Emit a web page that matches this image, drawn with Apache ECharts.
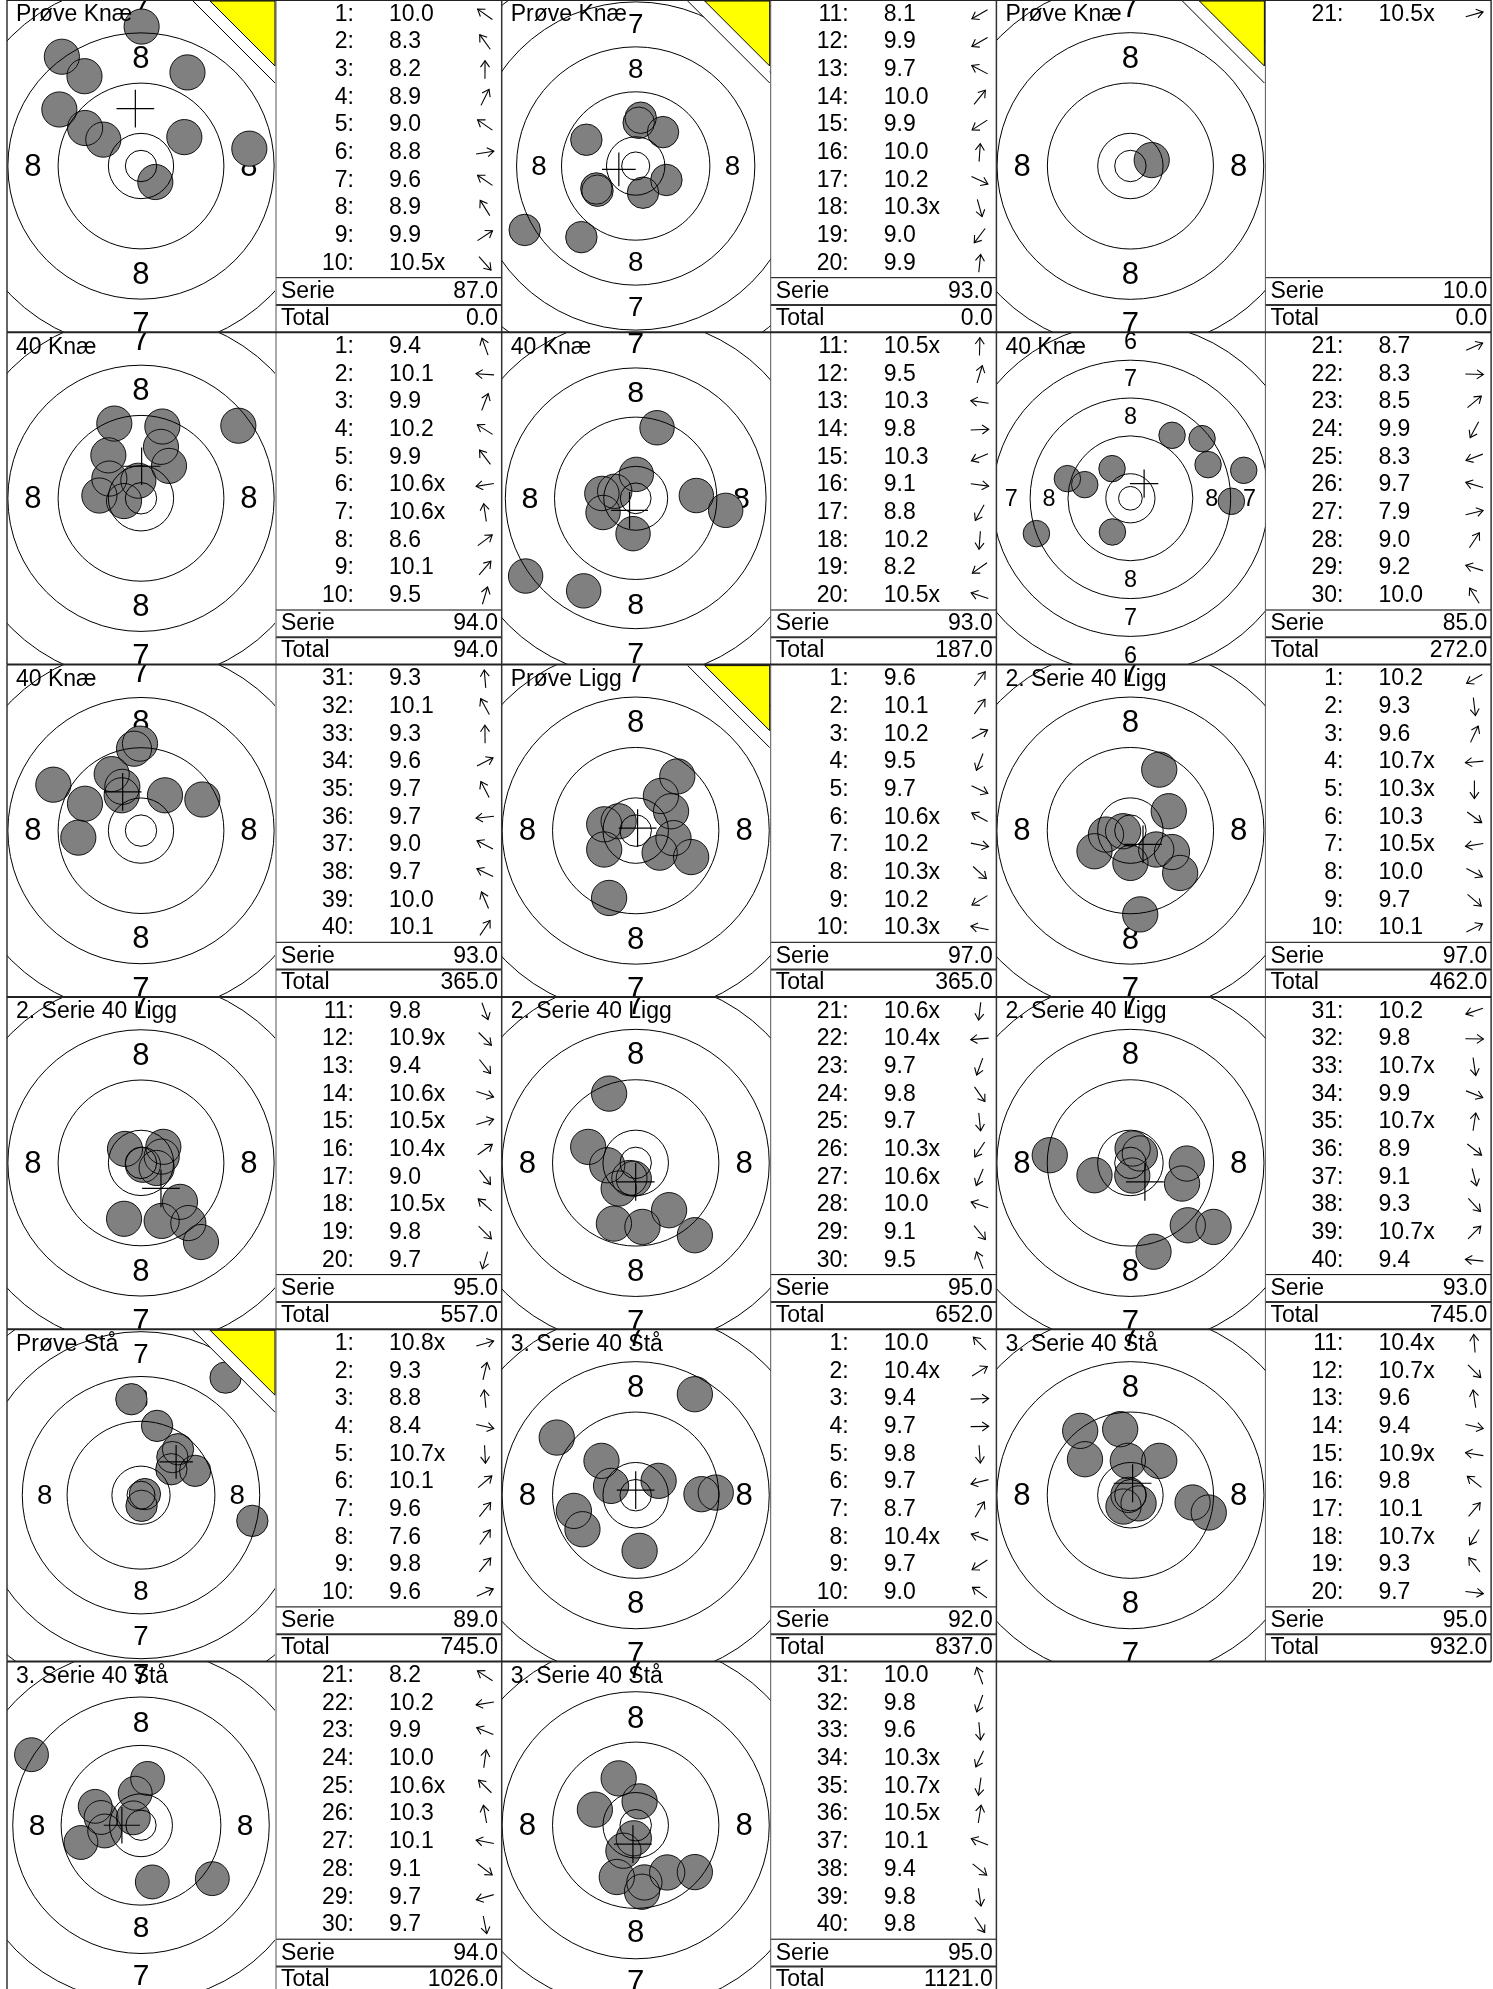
<!DOCTYPE html>
<html><head><meta charset="utf-8">
<script src="https://cdn.jsdelivr.net/npm/echarts@6/dist/echarts.min.js"></script>
<style>html,body{margin:0;padding:0;background:#fff}#c{width:1493px;height:1989px}</style>
</head><body><div id="c"></div>
<script>
// ---------------- data ----------------
const titles = ["Prøve Knæ","Prøve Knæ","Prøve Knæ","40 Knæ","40 Knæ","40 Knæ","40 Knæ","Prøve Ligg","2. Serie 40 Ligg","2. Serie 40 Ligg","2. Serie 40 Ligg","2. Serie 40 Ligg","Prøve Stå","3. Serie 40 Stå","3. Serie 40 Stå","3. Serie 40 Stå","3. Serie 40 Stå"];
const firstShot = [1,11,21,1,11,21,31,1,1,11,21,31,1,1,11,21,31];
const scores = [
 ["10.0","8.3","8.2","8.9","9.0","8.8","9.6","8.9","9.9","10.5x"],
 ["8.1","9.9","9.7","10.0","9.9","10.0","10.2","10.3x","9.0","9.9"],
 ["10.5x"],
 ["9.4","10.1","9.9","10.2","9.9","10.6x","10.6x","8.6","10.1","9.5"],
 ["10.5x","9.5","10.3","9.8","10.3","9.1","8.8","10.2","8.2","10.5x"],
 ["8.7","8.3","8.5","9.9","8.3","9.7","7.9","9.0","9.2","10.0"],
 ["9.3","10.1","9.3","9.6","9.7","9.7","9.0","9.7","10.0","10.1"],
 ["9.6","10.1","10.2","9.5","9.7","10.6x","10.2","10.3x","10.2","10.3x"],
 ["10.2","9.3","9.6","10.7x","10.3x","10.3","10.5x","10.0","9.7","10.1"],
 ["9.8","10.9x","9.4","10.6x","10.5x","10.4x","9.0","10.5x","9.8","9.7"],
 ["10.6x","10.4x","9.7","9.8","9.7","10.3x","10.6x","10.0","9.1","9.5"],
 ["10.2","9.8","10.7x","9.9","10.7x","8.9","9.1","9.3","10.7x","9.4"],
 ["10.8x","9.3","8.8","8.4","10.7x","10.1","9.6","7.6","9.8","9.6"],
 ["10.0","10.4x","9.4","9.7","9.8","9.7","8.7","10.4x","9.7","9.0"],
 ["10.4x","10.7x","9.6","9.4","10.9x","9.8","10.1","10.7x","9.3","9.7"],
 ["8.2","10.2","9.9","10.0","10.6x","10.3","10.1","9.1","9.7","9.7"],
 ["10.0","9.8","9.6","10.3x","10.7x","10.5x","10.1","9.4","9.8","9.8"]
];
const serie = ["87.0","93.0","10.0","94.0","93.0","85.0","93.0","97.0","97.0","95.0","95.0","93.0","89.0","92.0","95.0","94.0","95.0"];
const total = ["0.0","0.0","0.0","94.0","187.0","272.0","365.0","365.0","462.0","557.0","652.0","745.0","745.0","837.0","932.0","1026.0","1121.0"];
// shot centres in mm from target centre (x right, y up)
const shotX = [
 [-6.0,-12.6,0.1,7.4,-13.0,17.25,-8.9,-9.0,6.9,2.28],
 [-19.75,-7.0,-8.78,4.86,-6.8,0.53,5.46,1.3,-9.67,0.89],
 [3.39],
 [-4.25,-6.63,3.18,-5.04,-5.2,-2.7,-0.42,15.5,4.46,3.4],
 [0.1,3.47,-5.5,9.86,-5.31,14.63,-8.46,-0.43,-17.9,-3.41],
 [16.42,21.35,15.15,-3.8,-19.87,-9.65,23.96,8.81,-13.32,-3.88],
 [-1.11,-3.08,-0.16,9.77,-4.67,-9.98,-13.96,-8.92,-2.97,3.82],
 [6.6,4.0,5.61,-4.22,8.8,-2.7,6.0,3.8,-5.0,-5.0],
 [-5.7,1.56,4.58,-1.16,0,4.1,-3.88,6.6,7.9,6.09],
 [3.29,0.3,7.54,2.49,3.3,3.56,9.55,-2.55,6.21,-2.7],
 [-0.3,-4.52,-3.46,5.3,1.07,-2.7,-1.0,-7.54,9.39,-4.22],
 [-5.7,8.96,0.3,8.2,0.35,13.2,3.67,9.11,1.5,-12.8],
 [0.7,2.87,-1.72,19.88,0.1,5.42,6.61,15.1,5.6,9.67],
 [-5.43,3.64,12.71,10.44,0.62,-9.81,9.39,-3.91,-8.45,-12.53],
 [-0.41,1.3,-1.62,12.44,-0.3,-7.21,4.58,-1.1,-7.97,9.87],
 [-18.1,-6.0,-7.57,1.09,-1.27,-0.96,-6.6,11.79,-9.93,1.87],
 [-2.7,-3.0,1.0,-1.95,-0.3,0.62,-6.48,9.39,1.38,5.0]
];
const shotY = [
 [4.2,17.4,22.2,14.9,9.0,2.76,6.05,14.3,4.6,-2.55],
 [-11.38,-4.0,4.67,6.03,-4.4,7.69,-2.49,-4.75,-12.66,8.59],
 [0.94],
 [11.9,0.44,8.19,3.14,6.84,-0.44,2.8,11.56,5.16,11.43],
 [3.89,11.47,0.79,0.45,-2.31,-1.96,-15.05,-5.75,-12.64,1.14],
 [7.12,-0.63,12.61,-7.12,-7.47,2.89,5.92,13.32,4.16,6.27],
 [13.04,5.62,13.85,4.95,9.0,-1.12,7.31,4.28,6.97,5.62],
 [8.6,5.5,3.07,-10.69,-4.2,1.48,-1.2,-3.5,-3.0,1.0],
 [-3.28,-13.3,9.68,-0.1,-5.13,-3.0,-0.63,-3.4,-6.72,3.07],
 [-9.24,-0.3,-9.58,-0.81,1.0,2.56,-12.6,2.23,-6.2,-8.9],
 [-2.5,-0.37,-9.63,-7.51,-10.16,-4.07,-2.4,2.54,-11.48,11.0],
 [-1.96,-0.1,-2.0,-3.28,2.28,-10.16,-14.1,-9.9,1.5,1.22],
 [0.2,12.38,17.14,-4.58,-1.9,4.64,8.21,21.0,6.8,4.35],
 [5.45,2.28,0.42,0.16,-8.84,-2.49,16.03,1.48,-5.4,9.15],
 [5.45,-1.3,10.48,-2.75,0.05,5.71,5.45,-1.8,10.21,-1.16],
 [11.82,-0.96,3.17,7.85,1.24,5.37,1.3,-8.95,-2.89,-9.5],
 [7.54,-8.33,-10.7,-4.1,-2.1,3.84,2.51,-7.54,-9.2,-7.6]
];
// mean point of impact (cross), mm
const mpiX = [-0.9,-3.0,null,0.1,-1.0,2.9,-2.92,0.3,2.0,3.18,0.0,2.3,6.27,0.0,0.35,-3.16,-0.44];
const mpiY = [9.13,-0.6,null,5.1,-1.96,3.1,6.16,0.4,-2.2,-4.05,-3.0,-3.0,5.95,0.8,1.9,0.0,-3.04];

// ---------------- target geometry (ISSF 50m rifle, mm) ----------------
const RING_NUMS = [10,9,8,7,6,5,4,3,2,1];
const ringRadius = n => 5.2 + 8*(10-n);
const INNER_TEN = 2.5, SHOT_R = 2.8, LABEL_NUMS = [1,2,3,4,5,6,7,8], CROSS_HALF = 3.0, LABEL_FONT = 4.95;

// ---------------- layout ----------------
const ROW_H = 332.3, PW = 494.7, X0 = 7, TW = 268, TH = 332, TBL_OFF = 269;
const PX_PER_MM = [6.28,5.62,6.29,6.28,6.15,4.73,6.28,6.3,6.3,6.28,6.3,6.3,5.6,6.3,6.3,6.05,6.3];
const FONT = '"Liberation Sans", Arial, Helvetica, sans-serif';

const grids=[], xAxes=[], yAxes=[], series=[], els=[];
const nPanels = titles.length;

function txt(x,y,s,align,size,z){
  return {type:'text', x:x, y:y, z:z||50, silent:true,
    style:{text:s, font:(size||23)+'px '+FONT, fill:'#000', align:align||'left', verticalAlign:'middle', textAlign:align||'left', textVerticalAlign:'middle'}};
}

for(let i=0;i<nPanels;i++){
  const r=Math.floor(i/3), c=i%3;
  const L = X0 + PW*c, T = ROW_H*r, k = PX_PER_MM[i];
  grids.push({left:L, top:T, width:TW, height:TH});
  xAxes.push({type:'value', gridIndex:i, min:-(TW/2)/k, max:(TW/2)/k, show:false});
  yAxes.push({type:'value', gridIndex:i, min:-(TH/2)/k, max:(TH/2)/k, show:false});
  const base = {type:'custom', xAxisIndex:i, yAxisIndex:i, clip:true, silent:true, animation:false};
  // ring numbers
  series.push(Object.assign({}, base, {z:1, data: LABEL_NUMS.map(n=>[n,0]),
    renderItem:(p,api)=>{
      const n=api.value(0), m=ringRadius(n)-4, fs=api.size([LABEL_FONT,0])[0];
      const pts=[[0,m],[0,-m],[-m,0],[m,0]];
      return {type:'group', children: pts.map(pt=>{const q=api.coord(pt); return {type:'text', style:{text:String(n), x:q[0], y:q[1]+fs*0.04, font:fs.toFixed(1)+'px '+FONT, fill:'#000', align:'center', verticalAlign:'middle', textAlign:'center', textVerticalAlign:'middle'}};})};
    }}));
  // shot fills
  const sd = shotX[i].map((x,j)=>[x, shotY[i][j]]);
  series.push(Object.assign({}, base, {z:2, data: sd,
    renderItem:(p,api)=>{const q=api.coord([api.value(0),api.value(1)]); const rr=api.size([SHOT_R,0])[0];
      return {type:'circle', shape:{cx:q[0],cy:q[1],r:rr}, style:{fill:'#808080', stroke:null}};}}));
  // rings
  series.push(Object.assign({}, base, {z:3, data: RING_NUMS.map(n=>[ringRadius(n),0]).concat([[INNER_TEN,0]]),
    renderItem:(p,api)=>{const q=api.coord([0,0]); const rr=api.size([api.value(0),0])[0];
      return {type:'circle', shape:{cx:q[0],cy:q[1],r:rr}, style:{fill:null, stroke:'#000', lineWidth:1}};}}));
  // shot outlines
  series.push(Object.assign({}, base, {z:4, data: sd,
    renderItem:(p,api)=>{const q=api.coord([api.value(0),api.value(1)]); const rr=api.size([SHOT_R,0])[0];
      return {type:'circle', shape:{cx:q[0],cy:q[1],r:rr}, style:{fill:null, stroke:'#000', lineWidth:0.9}};}}));
  // mean point cross
  if(mpiX[i]!==null){
    series.push(Object.assign({}, base, {z:5, data: [[mpiX[i], mpiY[i]]],
      renderItem:(p,api)=>{const q=api.coord([api.value(0),api.value(1)]); const h=api.size([CROSS_HALF,0])[0];
        return {type:'group', children:[
          {type:'line', shape:{x1:q[0]-h,y1:q[1],x2:q[0]+h,y2:q[1]}, style:{stroke:'#000', lineWidth:1.2}},
          {type:'line', shape:{x1:q[0],y1:q[1]-h,x2:q[0],y2:q[1]+h}, style:{stroke:'#000', lineWidth:1.2}}]};}}));
  }
  // practice corner
  if(titles[i].indexOf('Prøve')===0){
    const R = L+TW;
    els.push({type:'polygon', z:60, silent:true, shape:{points:[[L+186,T+1],[R,T+1],[R,T+83]]}, style:{fill:'#fff', stroke:null}});
    els.push({type:'line', z:61, silent:true, shape:{x1:L+186,y1:T+1,x2:R,y2:T+83}, style:{stroke:'#000', lineWidth:1}});
    els.push({type:'polygon', z:61, silent:true, shape:{points:[[L+203,T+1],[R,T+1],[R,T+66]]}, style:{fill:'#ffff00', stroke:'#000', lineWidth:1}});
  }
  // title
  els.push(txt(L+9, T+15, titles[i], 'left', 23, 70));
  // table
  const TL = L + TBL_OFF;
  scores[i].forEach((s,j)=>{
    const y = T + 14.3 + 27.67*j;
    els.push(txt(TL+78, y, (firstShot[i]+j)+':', 'right'));
    els.push(txt(TL+113, y, s, 'left'));
    const ang = Math.atan2(shotY[i][j], shotX[i][j]);
    els.push({type:'group', x:TL+209, y:y, rotation:ang, z:50, silent:true, children:[
      {type:'line', shape:{x1:-9,y1:0,x2:9,y2:0}, style:{stroke:'#000', lineWidth:1.1}},
      {type:'polyline', shape:{points:[[2.5,-4.5],[9,0],[2.5,4.5]]}, style:{stroke:'#000', fill:null, lineWidth:1.1}}]});
  });
  els.push(txt(TL+5, T+291.7, 'Serie', 'left'));
  els.push(txt(TL+222, T+291.7, serie[i], 'right'));
  els.push(txt(TL+5, T+318.3, 'Total', 'left'));
  els.push(txt(TL+222, T+318.3, total[i], 'right'));
  els.push({type:'line', z:40, silent:true, shape:{x1:TL, y1:T+277.7, x2:L+PW, y2:T+277.7}, style:{stroke:'#000', lineWidth:1}});
  els.push({type:'line', z:40, silent:true, shape:{x1:TL, y1:T+305, x2:L+PW, y2:T+305}, style:{stroke:'#333', lineWidth:2}});
  // vertical borders
  const yb = Math.min(T+ROW_H, 1989);
  els.push({type:'line', z:80, silent:true, shape:{x1:L, y1:T, x2:L, y2:yb}, style:{stroke:'#333', lineWidth:1.5}});
  els.push({type:'line', z:80, silent:true, shape:{x1:TL, y1:T, x2:TL, y2:yb}, style:{stroke:'#555', lineWidth:1}});
  if(c===2 || i===nPanels-1){
    els.push({type:'line', z:80, silent:true, shape:{x1:L+PW, y1:T, x2:L+PW, y2:yb}, style:{stroke:'#333', lineWidth:1.5}});
  }
}
// row separators
for(let r=0;r<6;r++){
  const y = r*ROW_H + (r===0?0.5:0);
  els.push({type:'line', z:81, silent:true, shape:{x1:X0, y1:y, x2:X0+3*PW, y2:y}, style:{stroke:'#222', lineWidth:r===0?1:2}});
}

const chart = echarts.init(document.getElementById('c'), null, {renderer:'canvas'});
chart.setOption({animation:false, backgroundColor:'#fff', grid:grids, xAxis:xAxes, yAxis:yAxes, series:series, graphic:{elements:els}});
</script></body></html>
